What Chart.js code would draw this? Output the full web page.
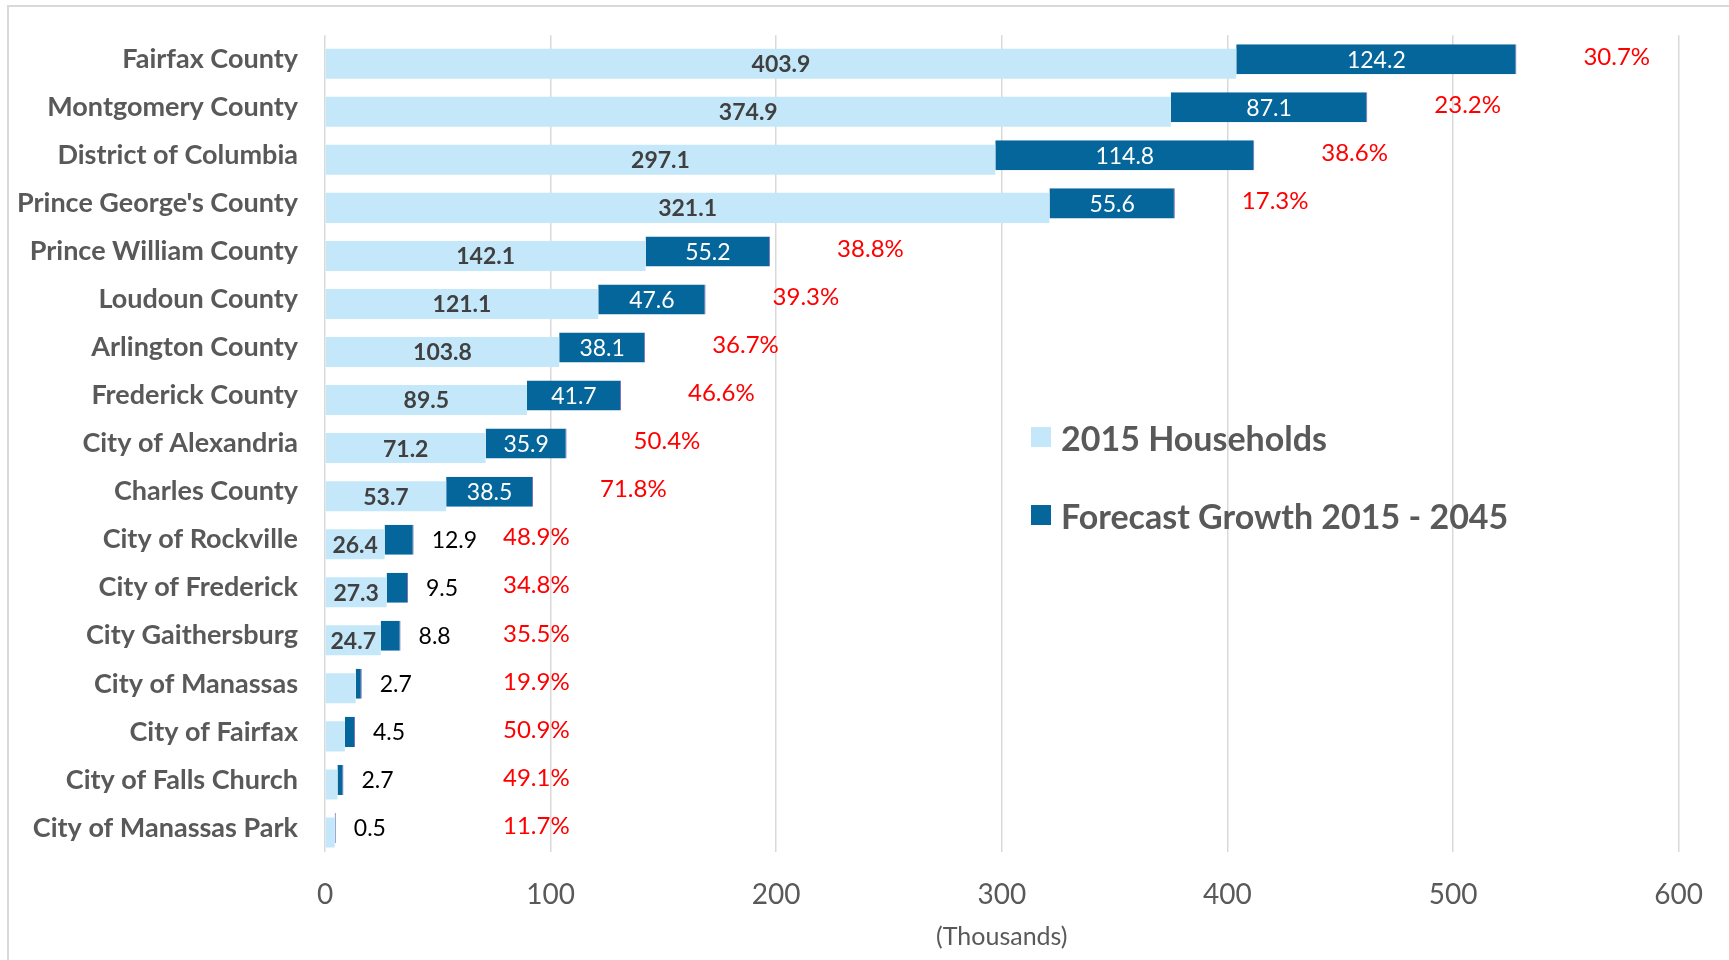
<!DOCTYPE html>
<html>
<head>
<meta charset="utf-8">
<script src="https://cdn.jsdelivr.net/npm/chart.js@4.4.1/dist/chart.umd.min.js"></script>
<style>
  html, body { margin: 0; padding: 0; background: #fff; overflow: hidden; }
  #wrap { position: relative; width: 1729px; height: 960px; }
  #frame { position: absolute; left: 7px; top: 5px; width: 1760px; height: 1000px; border: 2px solid #d9d9d9; box-sizing: border-box; pointer-events: none; }
  #legend { position: absolute; left: 1031px; top: 410px; font-family: Lato, sans-serif; font-weight: bold; font-size: 34px; color: #595959; }
  #legend .item { display: flex; align-items: center; height: 54px; margin-bottom: 24px; }
  #legend .box { width: 20px; height: 20px; margin-right: 10px; }
</style>
</head>
<body>
<div id="wrap">
  <canvas id="chart" width="1729" height="960"></canvas>
  <div id="frame"></div>
  <div id="legend"></div>
</div>
<script>
  const categories = [
    'Fairfax County', 'Montgomery County', 'District of Columbia', "Prince George's County",
    'Prince William County', 'Loudoun County', 'Arlington County', 'Frederick County',
    'City of Alexandria', 'Charles County', 'City of Rockville', 'City of Frederick',
    'City Gaithersburg', 'City of Manassas', 'City of Fairfax', 'City of Falls Church',
    'City of Manassas Park'
  ];
  const households2015 = [403.9, 374.9, 297.1, 321.1, 142.1, 121.1, 103.8, 89.5, 71.2, 53.7, 26.4, 27.3, 24.7, 13.6, 8.8, 5.5, 4.3];
  const growth = [124.2, 87.1, 114.8, 55.6, 55.2, 47.6, 38.1, 41.7, 35.9, 38.5, 12.9, 9.5, 8.8, 2.7, 4.5, 2.7, 0.5];
  const growthPct = ['30.7%', '23.2%', '38.6%', '17.3%', '38.8%', '39.3%', '36.7%', '46.6%', '50.4%', '71.8%', '48.9%', '34.8%', '35.5%', '19.9%', '50.9%', '49.1%', '11.7%'];
  const seriesNames = ['2015 Households', 'Forecast Growth 2015 - 2045'];
  const xMin = 0, xMax = 600, xStep = 100;

  const LIGHT = '#c4e8fa';
  const DARK = '#05669b';
  const FONT = 'Lato, sans-serif';

  // the light bars sit a few px lower than the dark ones in the original
  const offsetPlugin = {
    id: 'lightOffset',
    afterDatasetsUpdate(chart) {
      chart.getDatasetMeta(0).data.forEach(el => { el.y += 4.5; });
    }
  };

  const labelPlugin = {
    id: 'barLabels',
    afterDatasetsDraw(chart) {
      const ctx = chart.ctx;
      const xs = chart.scales.x;
      const light = chart.getDatasetMeta(0).data;
      const dark = chart.getDatasetMeta(1).data;
      ctx.save();
      ctx.textBaseline = 'middle';
      categories.forEach((c, i) => {
        const l = light[i];
        if (l.x - l.base > 45) {
          ctx.font = 'bold 23px ' + FONT;
          ctx.fillStyle = '#404040';
          ctx.textAlign = 'center';
          ctx.fillText(households2015[i].toFixed(1), (l.x + l.base) / 2, l.y + 1);
        }
        const d = dark[i];
        ctx.font = '23px ' + FONT;
        if (d.x - d.base > 50) {
          ctx.fillStyle = '#ffffff';
          ctx.textAlign = 'center';
          ctx.fillText(growth[i].toFixed(1), (d.x + d.base) / 2, d.y + 1);
        } else {
          ctx.fillStyle = '#000000';
          ctx.textAlign = 'left';
          ctx.fillText(growth[i].toFixed(1), d.x + 18, d.y + 1);
        }
        ctx.font = '24px ' + FONT;
        ctx.fillStyle = '#ff0000';
        ctx.textAlign = 'left';
        const px = Math.max(d.x + 67, xs.getPixelForValue(xMin) + 178);
        ctx.fillText(growthPct[i], px, d.y - 2);
      });
      ctx.restore();
    }
  };

  new Chart(document.getElementById('chart'), {
    type: 'bar',
    data: {
      labels: categories,
      datasets: [{
        label: seriesNames[0],
        data: households2015,
        backgroundColor: LIGHT,
        barPercentage: 0.625,
        categoryPercentage: 1
      }, {
        label: seriesNames[1],
        data: growth,
        backgroundColor: DARK,
        borderColor: '#8470b8',
        borderWidth: { top: 0, right: 1, bottom: 0, left: 0 },
        barPercentage: 0.625,
        categoryPercentage: 1
      }]
    },
    options: {
      indexAxis: 'y',
      responsive: false,
      animation: false,
      events: [],
      layout: { padding: { top: 30, left: 15, right: 50, bottom: 8 } },
      scales: {
        x: {
          stacked: true,
          min: xMin,
          max: xMax,
          afterFit: s => { s.height = 100; },
          ticks: { stepSize: xStep, padding: 26, color: '#595959', font: { family: FONT, size: 28 } },
          grid: { color: '#d9d9d9', lineWidth: 1.5, drawTicks: false },
          border: { display: false },
          title: { display: true, text: '(Thousands)', color: '#595959', font: { family: FONT, size: 25 }, padding: { top: 0, bottom: 0 } }
        },
        y: {
          stacked: true,
          afterFit: s => { s.width = 310; },
          ticks: { padding: 19, color: '#595959', font: { family: FONT, size: 27, weight: 'bold' } },
          grid: { display: false },
          border: { display: false }
        }
      },
      plugins: {
        legend: { display: false },
        tooltip: { enabled: false }
      }
    },
    plugins: [offsetPlugin, labelPlugin]
  });

  const legend = document.getElementById('legend');
  [LIGHT, DARK].forEach((col, i) => {
    const item = document.createElement('div');
    item.className = 'item';
    item.innerHTML = '<span class="box" style="background:' + col + '"></span><span>' + seriesNames[i] + '</span>';
    legend.appendChild(item);
  });
</script>
</body>
</html>
